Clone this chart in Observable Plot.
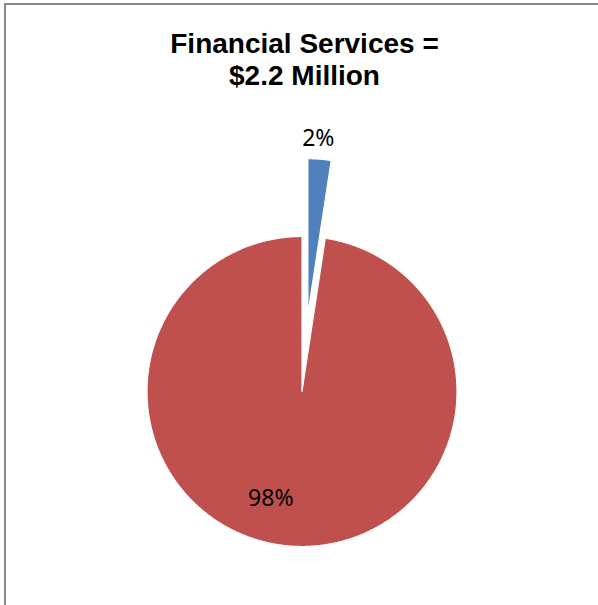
<!DOCTYPE html>
<html><head><meta charset="utf-8">
<script src="https://cdn.jsdelivr.net/npm/d3@7"></script>
<script src="https://cdn.jsdelivr.net/npm/@observablehq/plot@0.6"></script>
<style>
html,body{margin:0;padding:0;background:#fff;}
#wrap{position:relative;width:598px;height:605px;overflow:hidden;}
#border{position:absolute;left:4px;top:3px;width:700px;height:700px;border-top:2px solid #8a8a8a;border-left:2px solid #8a8a8a;pointer-events:none;}
#chart{position:absolute;left:0;top:0;}
</style></head><body>
<div id="wrap"><div id="chart"></div><div id="border"></div></div>
<script>
// ---- data ----
const categories = ["Financial Services", "All Other"];
const values = [2.4, 97.6];
const valueLabels = ["2%", "98%"];
const titleLines = ["Financial Services =", "$2.2 Million"];

// ---- layout / style ----
const W = 598, H = 605;
const cx = 301.5, cy = 391, R = 155;
const explode = [78, 0];
const colors = ["#4F81BD", "#C0504D"];
const labelPolar = [{r: 176, a: 3.4}, {r: 110.5, a: 196.4}]; // a in degrees, clockwise from 12 o'clock

const data = categories.map((c, i) => ({category: c, value: values[i], label: valueLabels[i]}));
const arcs = d3.pie().sort(null).value(d => d.value)(data);

const polys = arcs.map((a, i) => {
  const mid = (a.startAngle + a.endAngle) / 2;
  const ox = cx + explode[i] * Math.sin(mid);
  const oy = cy - explode[i] * Math.cos(mid);
  const pts = [{x: ox, y: oy}];
  const n = Math.max(8, Math.ceil((a.endAngle - a.startAngle) / (Math.PI / 360)));
  for (let k = 0; k <= n; k++) {
    const t = a.startAngle + (a.endAngle - a.startAngle) * k / n;
    pts.push({x: ox + R * Math.sin(t), y: oy - R * Math.cos(t)});
  }
  pts.push({x: ox, y: oy});
  return {pts, ox, oy, mid};
});

const labelRows = arcs.map((a, i) => {
  const p = polys[i];
  const ang = labelPolar[i].a * Math.PI / 180;
  return {x: p.ox + labelPolar[i].r * Math.sin(ang), y: p.oy - labelPolar[i].r * Math.cos(ang) + 1, text: a.data.label};
});

const titleRows = titleLines.map((t, i) => ({text: t, x: 304, y: 44 + i * 32}));

const chart = Plot.plot({
  width: W, height: H,
  margin: 0,
  x: {domain: [0, W], range: [0, W], axis: null},
  y: {domain: [0, H], range: [0, H], axis: null},
  style: {background: "transparent"},
  marks: [
    ...polys.map((p, i) => Plot.line(p.pts, {x: "x", y: "y", fill: colors[i], stroke: "white", strokeWidth: 1.2, curve: "linear"})),
    Plot.text(labelRows, {x: "x", y: "y", text: "text", fontSize: 23, fill: "black",
      fontFamily: "'Noto Sans', sans-serif", textAnchor: "middle", lineAnchor: "middle"}),
    Plot.text(titleRows, {x: "x", y: "y", text: "text", fontSize: 28, fontWeight: "bold",
      fontFamily: "'Liberation Sans', Arial, sans-serif", textAnchor: "middle", lineAnchor: "middle", fill: "black"})
  ]
});
document.getElementById("chart").appendChild(chart);
</script>
</body></html>
